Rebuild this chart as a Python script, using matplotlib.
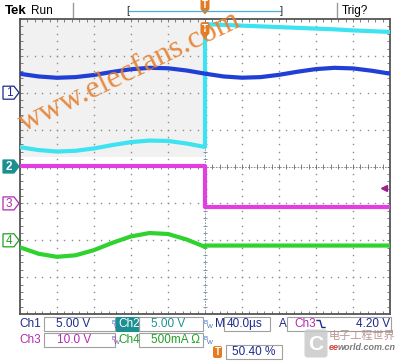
import numpy as np
import matplotlib
matplotlib.use('Agg')
import matplotlib.pyplot as plt
from matplotlib.patches import Polygon, Rectangle, FancyBboxPatch

plt.rcParams['font.family'] = ['Liberation Sans', 'DejaVu Sans']

# time base: 40 us/div, trigger in the middle of the record
t_pre = [-200, -180, -160, -140, -120, -100, -80, -60, -40, -20, 0]
t_post = [0, 20, 40, 60, 80, 100, 120, 140, 160, 180, 200]

# Ch1 (V)
ch1_pre = [2.57, 2.21, 2.03, 2.12, 2.41, 2.83, 3.19, 3.38, 3.32, 3.02, 2.59]
ch1_post = [2.59, 2.21, 2.04, 2.12, 2.43, 2.85, 3.21, 3.38, 3.30, 2.99, 2.59]
# Ch2 (V)
ch2_pre = [2.62, 2.23, 2.03, 2.13, 2.45, 2.91, 3.31, 3.52, 3.46, 3.12, 2.65]
ch2_post = [19.3, 19.2, 19.1, 19.0, 18.9, 18.8, 18.7, 18.6, 18.45, 18.35, 18.25]
# Ch3 (V)
ch3_pre = [10.1, 10.1, 10.1, 10.1, 10.1, 10.1, 10.1, 10.1, 10.1, 10.1, 10.1]
ch3_post = [-1.0, -1.0, -1.0, -1.0, -1.0, -1.0, -1.0, -1.0, -1.0, -1.0, -1.0]
# Ch4 (mA)
ch4_pre = [-96, -183, -225, -204, -134, -34, 52, 98, 85, 11, -90]
ch4_post = [-72, -72, -72, -72, -72, -72, -72, -72, -72, -72, -72]

ch_names = ['1', '2', '3', '4']
ch_scale = [5.0, 5.0, 10.0, 500.0]      # units per division
ch_offset = [2, 0, -1, -2]              # ground marker, divisions
ch_color = ['#1f3fd6', '#3ee3f2', '#e23fe0', '#2fd22f']
ch_text = ['#1c2a8c', '#1c9090', '#b02cb0', '#22a022']

trig_level = 4.20   # V on Ch3
trig_pos = 50.40    # %

NAVY = '#1c2a8c'
ORANGE = '#e47a22'

fig = plt.figure(figsize=(4, 3.64), dpi=100)
fig.patch.set_facecolor('white')

# graticule: 10 x 8 divisions
ax = fig.add_axes([20 / 400, 50 / 364, 370 / 400, 295 / 364])
ax.set_xlim(-200, 200)
ax.set_ylim(-4, 4)
ax.set_xticks([])
ax.set_yticks([])
for s in ax.spines.values():
    s.set_color('#555555')
    s.set_linewidth(1.3)

ax.add_patch(Rectangle((-200, 0.25), 200, 3.75, color='#f1f1f1', lw=0, zorder=0))

minor_x = np.arange(-200, 201, 8)
minor_y = np.linspace(-4, 4, 41)
for xd in range(-160, 161, 40):
    if xd != 0:
        ax.plot(np.full(minor_y.size, xd), minor_y, ls='none', marker='s', ms=1.0, mew=0, color='#8c8c8c')
for yd in range(-3, 4):
    if yd != 0:
        ax.plot(minor_x, np.full(minor_x.size, yd), ls='none', marker='s', ms=1.0, mew=0, color='#8c8c8c')
# centre lines with ticks
ax.axhline(0, color='#7a7a7a', lw=0.6, ls=(0, (2, 1.5)))
ax.axvline(0, color='#7a8aa0', lw=0.6, ls=(0, (2, 1.5)))
ax.vlines(minor_x, -0.06, 0.06, color='#6a6a6a', lw=0.6)
ax.hlines(minor_y, -2.4, 2.4, color='#6a8aa0', lw=0.6)
# edge ticks
ax.vlines(minor_x, 3.92, 4, color='#6a6a6a', lw=0.6)
ax.vlines(minor_x, -4, -3.92, color='#6a6a6a', lw=0.6)
ax.hlines(minor_y, -200, -196.5, color='#6a6a6a', lw=0.6)
ax.hlines(minor_y, 196.5, 200, color='#6a6a6a', lw=0.6)

t_all = t_pre + t_post
traces = [ch1_pre + ch1_post, ch2_pre + ch2_post, ch3_pre + ch3_post, ch4_pre + ch4_post]
order = [3, 2, 1, 0]
for i in order:
    y = np.array(traces[i]) / ch_scale[i] + ch_offset[i]
    ax.plot(t_all, y, color=ch_color[i], lw=3.0, solid_joinstyle='round', zorder=3 + (3 - i))

# trigger level marker (Ch3)
ax.plot([193], [trig_level / ch_scale[2] + ch_offset[2]], marker='<', ms=5, color='#a0208f', zorder=8)


def to_px(div):
    return 166.5 - div * 36.9


# overlay for screen furniture, pixel coordinates
ui = fig.add_axes([0, 0, 1, 1], zorder=5)
ui.set_xlim(0, 400)
ui.set_ylim(364, 0)
ui.axis('off')
ui.patch.set_alpha(0)

# channel ground markers
for i in range(4):
    yp = to_px(ch_offset[i])
    pts = [(3, yp - 6.5), (14, yp - 6.5), (19, yp), (14, yp + 6.5), (3, yp + 6.5)]
    filled = i == 1
    ui.add_patch(Polygon(pts, closed=True, fc=ch_text[i] if filled else 'white', ec=ch_text[i], lw=0.9))
    ui.text(9, yp + 0.5, ch_names[i], color='white' if filled else ch_text[i], ha='center', va='center',
            fontsize=8.5, fontweight='bold' if filled else 'normal')


def t_marker(x, y):
    ui.add_patch(FancyBboxPatch((x - 3.5, y - 6), 7, 11, boxstyle='round,pad=0.6,rounding_size=2',
                                fc=ORANGE, ec=ORANGE, lw=0.5))
    ui.add_patch(Polygon([(x - 2.5, y + 5.5), (x + 2.5, y + 5.5), (x, y + 8.5)], fc=ORANGE, ec=ORANGE))
    ui.text(x, y, 'T', color='white', ha='center', va='center', fontsize=7, fontweight='bold')


# header
ui.text(5, 11, 'Tek', fontsize=9.5, fontweight='bold', va='center', color='black')
ui.text(31, 11, 'Run', fontsize=8.5, va='center', color='black')
ui.plot([73, 73], [3, 17], color='#9a9a9a', lw=1)
ui.plot([337, 337], [3, 17], color='#9a9a9a', lw=1)
ui.text(342, 11, 'Trig?', fontsize=8.5, va='center', color='black')
ui.text(126, 11, '[', fontsize=8, va='center', color='#333333')
ui.text(280, 11, ']', fontsize=8, va='center', color='#333333')
ui.plot([129, 281], [10.5, 10.5], color='#4aaed0', lw=0.9)
t_marker(205, 5)
t_marker(205, 29)

# status area
ui.text(19, 324, 'Ch1', fontsize=8.5, color=ch_text[0], va='center')
ui.add_patch(Rectangle((44, 317), 71, 14, fill=False, ec='#a0a0a0', lw=0.8))
ui.text(56, 324, '5.00 V', fontsize=8.5, color=ch_text[0], va='center')
ui.add_patch(Rectangle((116, 317), 23, 14, fc='#1c9090', ec='#1c9090', lw=0.8))
ui.text(118, 324, 'Ch2', fontsize=8.5, color='white', va='center')
ui.add_patch(Rectangle((139, 317), 64, 14, fill=False, ec='#a0a0a0', lw=0.8))
ui.text(151, 324, '5.00 V', fontsize=8.5, color=ch_text[1], va='center')
ui.text(215, 324, 'M', fontsize=8.5, color=NAVY, va='center')
ui.add_patch(Rectangle((224, 317), 46, 14, fill=False, ec='#a0a0a0', lw=0.8))
ui.text(227, 324, '40.0\u00b5s', fontsize=8.5, color=NAVY, va='center')
ui.text(279, 324, 'A', fontsize=8.5, color=NAVY, va='center')
ui.add_patch(Rectangle((287, 317), 104, 14, fill=False, ec='#a0a0a0', lw=0.8))
ui.text(294, 324, 'Ch3', fontsize=8.5, color=ch_text[2], va='center')
ui.plot([317, 320, 322, 325], [320.5, 320.5, 327.5, 327.5], color=NAVY, lw=1)
ui.text(390, 324, '%.2f V' % trig_level, fontsize=8.5, color=NAVY, va='center', ha='right')

ui.text(19, 340, 'Ch3', fontsize=8.5, color=ch_text[2], va='center')
ui.add_patch(Rectangle((44, 333), 71, 14, fill=False, ec='#a0a0a0', lw=0.8))
ui.text(57, 340, '10.0 V', fontsize=8.5, color=ch_text[2], va='center')
ui.text(118, 340, 'Ch4', fontsize=8.5, color=ch_text[3], va='center')
ui.add_patch(Rectangle((139, 333), 64, 14, fill=False, ec='#a0a0a0', lw=0.8))
ui.text(151, 340, '500mA \u03a9', fontsize=8.5, color=ch_text[3], va='center')

# bandwidth-limit flags
for bx, by, c in [(111, 324, '#3a70c0'), (204, 324, '#3a70c0'), (111, 340, '#8040b0'), (204, 340, '#3a70c0')]:
    ui.text(bx, by - 2, 'B', fontsize=4.5, color=c, va='center')
    ui.text(bx + 2.5, by + 2, 'W', fontsize=4.5, color=c, va='center')

ui.add_patch(FancyBboxPatch((214, 347), 7, 10, boxstyle='round,pad=0.3,rounding_size=1.5', fc=ORANGE, ec=ORANGE))
ui.text(217.5, 352, 'T', color='white', ha='center', va='center', fontsize=7, fontweight='bold')
ui.add_patch(Rectangle((226, 345), 56, 14, fill=False, ec='#a0a0a0', lw=0.8))
ui.text(232, 352, '%.2f %%' % trig_pos, fontsize=8.5, color=NAVY, va='center')

# eeworld logo watermark
ui.add_patch(FancyBboxPatch((305, 330), 22, 27, boxstyle='round,pad=0.5,rounding_size=3', fc='#c9c9c9', ec='none', alpha=0.85))
ui.text(316, 344, 'C', fontsize=15, fontweight='bold', color='white', ha='center', va='center')
ui.text(329, 336, '电子工程世界', fontsize=8, color='#b08a8a', va='center',
        family=['Noto Sans CJK SC', 'DejaVu Sans'], alpha=0.9)
ui.text(329, 348, 'ee', fontsize=6.5, color='#d04040', va='center', style='italic', fontweight='bold')
ui.text(338, 348, 'world.com.cn', fontsize=6.5, color='#7a7a7a', va='center', style='italic', fontweight='bold')

# elecfans watermark
fig.text(130 / 400, 1 - 72 / 364, 'www.elecfans.com', rotation=26, fontsize=23, family='Liberation Serif',
         color='#e5802f', alpha=0.9, ha='center', va='center', rotation_mode='anchor', zorder=10)

fig.savefig('out.png', dpi=100)
